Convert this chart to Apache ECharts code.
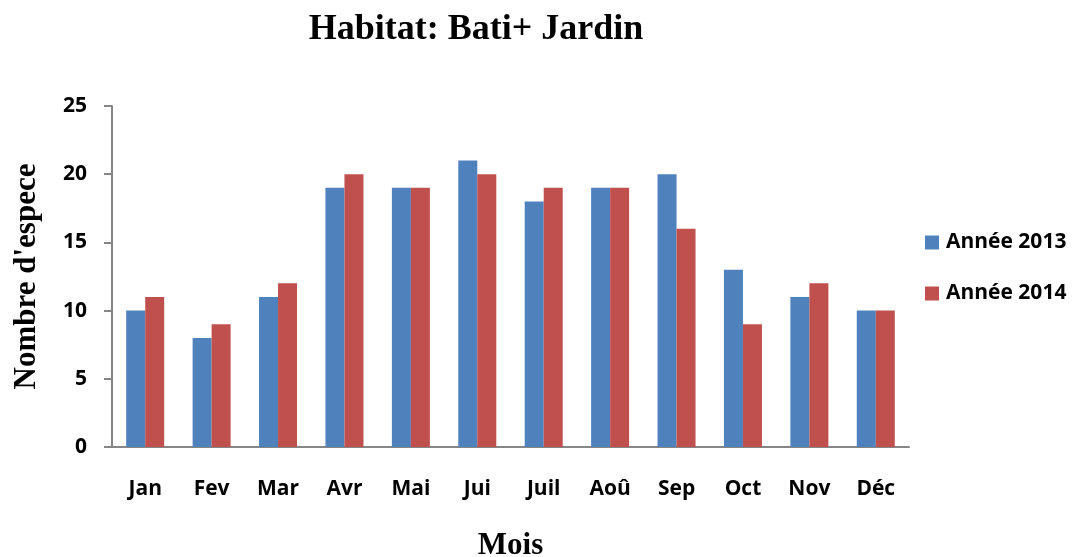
<!DOCTYPE html>
<html lang="fr" style="height: 100%">

<head>
  <meta charset="utf-8">
  <title>Habitat: Bati+ Jardin</title>
</head>

<body style="height: 100%; margin: 0; background: #fff">
  <div id="container" style="height: 557px; width: 1078px;"></div>

  <script type="text/javascript" src="https://cdn.jsdelivr.net/npm/echarts@6/dist/echarts.min.js"></script>
  <script type="text/javascript">
    // mois et nombre d'especes par annee
    var mois = ['Jan', 'Fev', 'Mar', 'Avr', 'Mai', 'Jui', 'Juil', 'Aoû', 'Sep', 'Oct', 'Nov', 'Déc'];
    var annee2013 = [10, 8, 11, 19, 19, 21, 18, 19, 20, 13, 11, 10];
    var annee2014 = [11, 9, 12, 20, 19, 20, 19, 19, 16, 9, 12, 10];
    var yTicks = [0, 5, 10, 15, 20, 25];

    var dom = document.getElementById('container');
    var myChart = echarts.init(dom, null, { renderer: 'canvas' });

    var labelFont = 'Open Sans';
    var serif = 'Liberation Serif';

    var option = {
      animation: false,
      title: {
        text: 'Habitat: Bati+ Jardin',
        left: 471,
        textAlign: 'center',
        top: 7,
        textStyle: { fontFamily: serif, fontWeight: 'bold', fontSize: 36, color: '#000' }
      },
      legend: {
        orient: 'vertical',
        left: 920,
        top: 227,
        itemWidth: 14,
        itemHeight: 14,
        itemGap: 30,
        icon: 'rect',
        textStyle: { fontFamily: labelFont, fontWeight: 'bold', fontSize: 21, color: '#000', padding: [0, 0, 0, 2] },
        data: ['Année 2013', 'Année 2014']
      },
      grid: { left: 112, right: 169, top: 106, bottom: 110, outerBoundsMode: 'none', containLabel: false },
      xAxis: {
        type: 'category',
        data: mois,
        name: 'Mois',
        nameLocation: 'center',
        nameGap: 83,
        nameTextStyle: { fontFamily: serif, fontWeight: 'bold', fontSize: 31, color: '#000' },
        axisLine: { lineStyle: { color: '#868686', width: 2 } },
        axisTick: { show: false },
        axisLabel: { margin: 32, fontFamily: labelFont, fontWeight: 'bold', fontSize: 21, color: '#000' }
      },
      yAxis: {
        type: 'value',
        min: yTicks[0],
        max: yTicks[yTicks.length - 1],
        interval: 5,
        name: "Nombre d'espece",
        nameLocation: 'center',
        nameGap: 70,
        nameRotate: 90,
        nameTextStyle: { fontFamily: serif, fontWeight: 'bold', fontSize: 31, color: '#000' },
        axisLine: { show: true, lineStyle: { color: '#868686', width: 2 } },
        axisTick: { show: true, inside: false, length: 8, lineStyle: { color: '#868686', width: 2 } },
        splitLine: { show: false },
        axisLabel: { margin: 25, fontFamily: labelFont, fontWeight: 'bold', fontSize: 21, color: '#000' }
      },
      series: [
        {
          name: 'Année 2013',
          type: 'bar',
          data: annee2013,
          barWidth: 19,
          barGap: '0%',
          itemStyle: { color: '#4F81BD' }
        },
        {
          name: 'Année 2014',
          type: 'bar',
          data: annee2014,
          barWidth: 19,
          itemStyle: { color: '#C0504D' }
        }
      ]
    };

    myChart.setOption(option);
  </script>
</body>

</html>
